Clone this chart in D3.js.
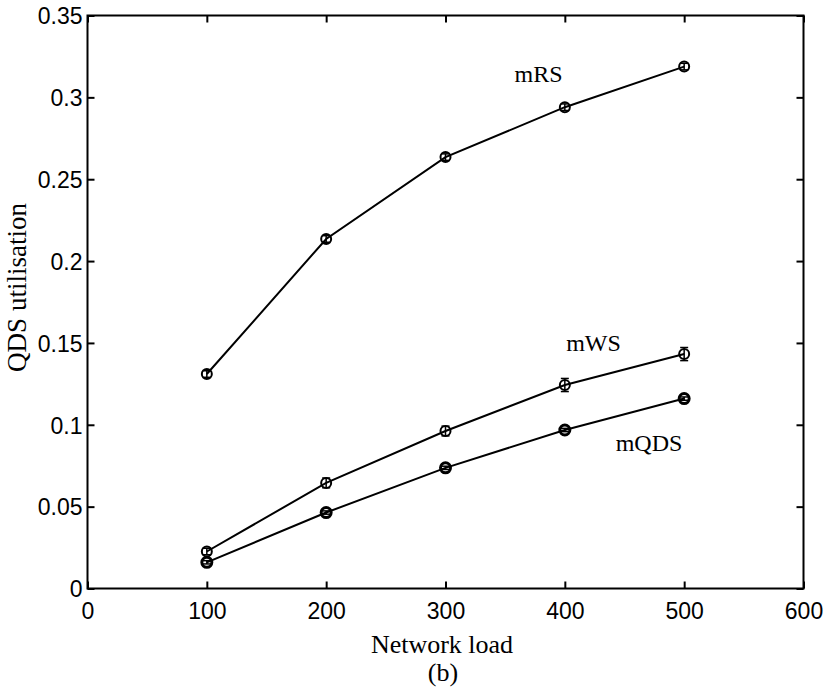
<!DOCTYPE html>
<html>
<head>
<meta charset="utf-8">
<script src="https://cdn.jsdelivr.net/npm/d3@7"></script>
<style>
  html, body { margin: 0; padding: 0; background: #fff; }
  svg { display: block; }
</style>
</head>
<body>
<svg id="chart" width="834" height="694"></svg>
<script>
// ---- data ----
const loads = [100, 200, 300, 400, 500];
const mRS   = [0.131, 0.2135, 0.2635, 0.294, 0.3188];
const mWS   = [0.0226, 0.0645, 0.0962, 0.1243, 0.1432];
const mQDS  = [0.0160, 0.0464, 0.0737, 0.0968, 0.1160];
const errRS  = [0.002, 0.002, 0.002, 0.002, 0.002];
const errWS  = [0.002, 0.003, 0.003, 0.004, 0.004];
const errQDS = [0.001, 0.001, 0.001, 0.001, 0.001];
const xTicks = [0, 100, 200, 300, 400, 500, 600];
const yTicks = [0, 0.05, 0.1, 0.15, 0.2, 0.25, 0.3, 0.35];
const seriesNames = ["mRS", "mWS", "mQDS"];

const svg = d3.select("#chart");
const L = 87.5, R = 803.5, T = 15.5, B = 588.5;
const x = d3.scaleLinear().domain([0, 600]).range([L, R]);
const y = d3.scaleLinear().domain([0, 0.35]).range([B, T]);

const sans = "'Liberation Sans', Arial, Helvetica, sans-serif";
const serif = "'Liberation Serif', 'Times New Roman', serif";

// frame
svg.append("rect").attr("x", L).attr("y", T).attr("width", R - L).attr("height", B - T)
  .attr("fill", "none").attr("stroke", "#000").attr("stroke-width", 2);

const tl = 7;
const xb = svg.append("g").attr("transform", `translate(0,${B})`)
  .call(d3.axisBottom(x).tickValues(xTicks).tickFormat(d3.format("d")).tickSizeInner(-tl).tickSizeOuter(0).tickPadding(14));
const xt = svg.append("g").attr("transform", `translate(0,${T})`)
  .call(d3.axisTop(x).tickValues(xTicks).tickFormat("").tickSizeInner(-tl).tickSizeOuter(0));
const yl = svg.append("g").attr("transform", `translate(${L},0)`)
  .call(d3.axisLeft(y).tickValues(yTicks).tickFormat(d => d === 0 ? "0" : String(+d.toFixed(2))).tickSizeInner(-tl).tickSizeOuter(0).tickPadding(5));
const yr = svg.append("g").attr("transform", `translate(${R},0)`)
  .call(d3.axisRight(y).tickValues(yTicks).tickFormat("").tickSizeInner(-tl).tickSizeOuter(0));

[xb, xt, yl, yr].forEach(g => {
  g.select(".domain").remove();
  g.selectAll(".tick line").attr("stroke", "#000").attr("stroke-width", 2);
  g.selectAll("text").attr("font-family", sans).attr("font-size", 23).attr("fill", "#000");
});
yl.selectAll("text").attr("dy", "0.36em");

const series = [
  {name: seriesNames[0], vals: mRS, err: errRS, label: [538.5, 82]},
  {name: seriesNames[1], vals: mWS, err: errWS, label: [593.5, 351]},
  {name: seriesNames[2], vals: mQDS, err: errQDS, label: [649, 451]}
];

const line = d3.line().x(d => x(d[0])).y(d => y(d[1]));

series.forEach(s => {
  const pts = loads.map((l, i) => [l, s.vals[i], s.err[i]]);
  svg.append("path").datum(pts).attr("d", line)
    .attr("fill", "none").attr("stroke", "#000").attr("stroke-width", 2);
  const g = svg.append("g");
  pts.forEach(p => {
    const cx = x(p[0]), cy = y(p[1]);
    const y1 = y(p[1] + p[2]), y2 = y(p[1] - p[2]);
    g.append("line").attr("x1", cx).attr("x2", cx).attr("y1", y1).attr("y2", y2)
      .attr("stroke", "#000").attr("stroke-width", 1.5);
    g.append("line").attr("x1", cx - 4).attr("x2", cx + 4).attr("y1", y1).attr("y2", y1)
      .attr("stroke", "#000").attr("stroke-width", 1.5);
    g.append("line").attr("x1", cx - 4).attr("x2", cx + 4).attr("y1", y2).attr("y2", y2)
      .attr("stroke", "#000").attr("stroke-width", 1.5);
    g.append("circle").attr("cx", cx).attr("cy", cy).attr("r", 5)
      .attr("fill", "none").attr("stroke", "#000").attr("stroke-width", s.name === "mQDS" ? 3 : 2);
  });
  svg.append("text").attr("x", s.label[0]).attr("y", s.label[1])
    .attr("text-anchor", "middle").attr("font-family", serif).attr("font-size", 24)
    .attr("fill", "#000").text(s.name);
});

// axis titles
svg.append("text").attr("x", 442).attr("y", 653).attr("text-anchor", "middle")
  .attr("font-family", serif).attr("font-size", 26).attr("fill", "#000").text("Network load");
svg.append("text").attr("x", 443).attr("y", 681).attr("text-anchor", "middle")
  .attr("font-family", serif).attr("font-size", 26).attr("fill", "#000").text("(b)");
svg.append("text").attr("transform", `translate(26,287.5) rotate(-90)`)
  .attr("text-anchor", "middle").attr("font-family", serif).attr("font-size", 27)
  .attr("fill", "#000").text("QDS utilisation");
</script>
</body>
</html>
